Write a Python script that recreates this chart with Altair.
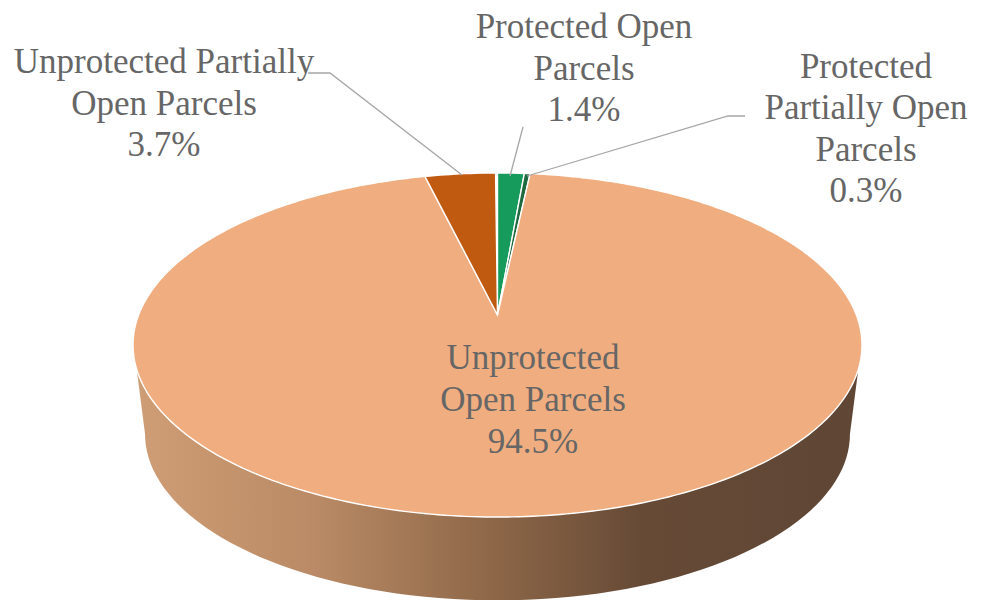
import math
import altair as alt
import pandas as pd

# Chart values
categories = ["Protected Open Parcels", "Protected Partially Open Parcels",
              "Unprotected Open Parcels", "Unprotected Partially Open Parcels"]
shares = [1.4, 0.3, 94.5, 3.7]
colors = ["#169b5d", "#1f6a3f", "#f0ae80", "#c05a10"]
label_lines = [
    ["Protected Open", "Parcels", "1.4%"],
    ["Protected", "Partially  Open", "Parcels", "0.3%"],
    ["Unprotected", "Open Parcels", "94.5%"],
    ["Unprotected Partially", "Open Parcels", "3.7%"],
]

# Layout of the 3D pie (perspective projection of a circle)
CX, CY = 497.5, 315.0
K = 0.1744
A, B = 166.8, 358.9
DEPTH_SCALE, DEPTH_CY = 0.967, 405.0
label_anchor = [(584, 27, 41.5), (866, 67, 41.3), (533, 358, 42), (164, 62, 41.5)]
leaders = [
    [(523, 127), (510, 176)],
    [(745, 116), (728, 116), (527, 176)],
    [(308, 73), (330, 73), (462, 175)],
]


def rim(theta, cy=CY, s=1.0):
    u, v = math.sin(theta), math.cos(theta)
    d = 1 + K * v
    return CX + s * B * u / d, cy - s * A * v / d


def scales():
    return dict(
        x=alt.X("x:Q", scale=alt.Scale(domain=[8, 979], nice=False, zero=False), axis=None),
        y=alt.Y("y:Q", scale=alt.Scale(domain=[600, 8], nice=False, zero=False), axis=None),
        order=alt.Order("i:Q"),
    )


layers = []

# Side wall
wall = []
for a in range(108, 253, 2):
    wall.append(rim(math.radians(a)))
for a in range(260, 99, -2):
    wall.append(rim(math.radians(a), DEPTH_CY, DEPTH_SCALE))
wall_df = pd.DataFrame([{"i": i, "x": p[0], "y": p[1]} for i, p in enumerate(wall)])
gradient = alt.Gradient(
    gradient="linear", x1=0, x2=1, y1=0, y2=0,
    stops=[
        alt.GradientStop(offset=0.0, color="#cf9d75"),
        alt.GradientStop(offset=0.25, color="#b98a65"),
        alt.GradientStop(offset=0.5, color="#8c6647"),
        alt.GradientStop(offset=0.7, color="#664a36"),
        alt.GradientStop(offset=1.0, color="#5f4635"),
    ],
)
layers.append(alt.Chart(wall_df).mark_line(fill=gradient, strokeWidth=0, interpolate="linear-closed").encode(**scales()))

# Slices
start = 0.0
for name, share, col in zip(categories, shares, colors):
    a0 = start / 100 * 2 * math.pi
    a1 = (start + share) / 100 * 2 * math.pi
    start += share
    n = max(4, int(share * 4))
    pts = [(CX, CY)] + [rim(a0 + (a1 - a0) * j / n) for j in range(n + 1)]
    df = pd.DataFrame([{"i": i, "x": p[0], "y": p[1], "name": name} for i, p in enumerate(pts)])
    layers.append(
        alt.Chart(df).mark_line(fill=col, stroke="#ffffff", strokeWidth=1.4, interpolate="linear-closed").encode(**scales())
    )

# Leader lines
for seg in leaders:
    df = pd.DataFrame([{"i": i, "x": p[0], "y": p[1]} for i, p in enumerate(seg)])
    layers.append(alt.Chart(df).mark_line(stroke="#a6a6a6", strokeWidth=1.3).encode(**scales()))

# Labels
rows = []
for lines, (lx, ly, gap) in zip(label_lines, label_anchor):
    for j, t in enumerate(lines):
        rows.append({"x": lx, "y": ly + j * gap, "t": t})
s = scales()
layers.append(
    alt.Chart(pd.DataFrame(rows))
    .mark_text(font="Liberation Serif", fontSize=35, color="#666666", align="center", baseline="middle")
    .encode(x=s["x"], y=s["y"], text="t:N")
)

chart = (
    alt.layer(*layers)
    .properties(width=971, height=592, padding=0, background="#ffffff")
    .configure_view(stroke=None)
)
chart.save("out.html", embed_options={"renderer": "svg", "actions": False})
